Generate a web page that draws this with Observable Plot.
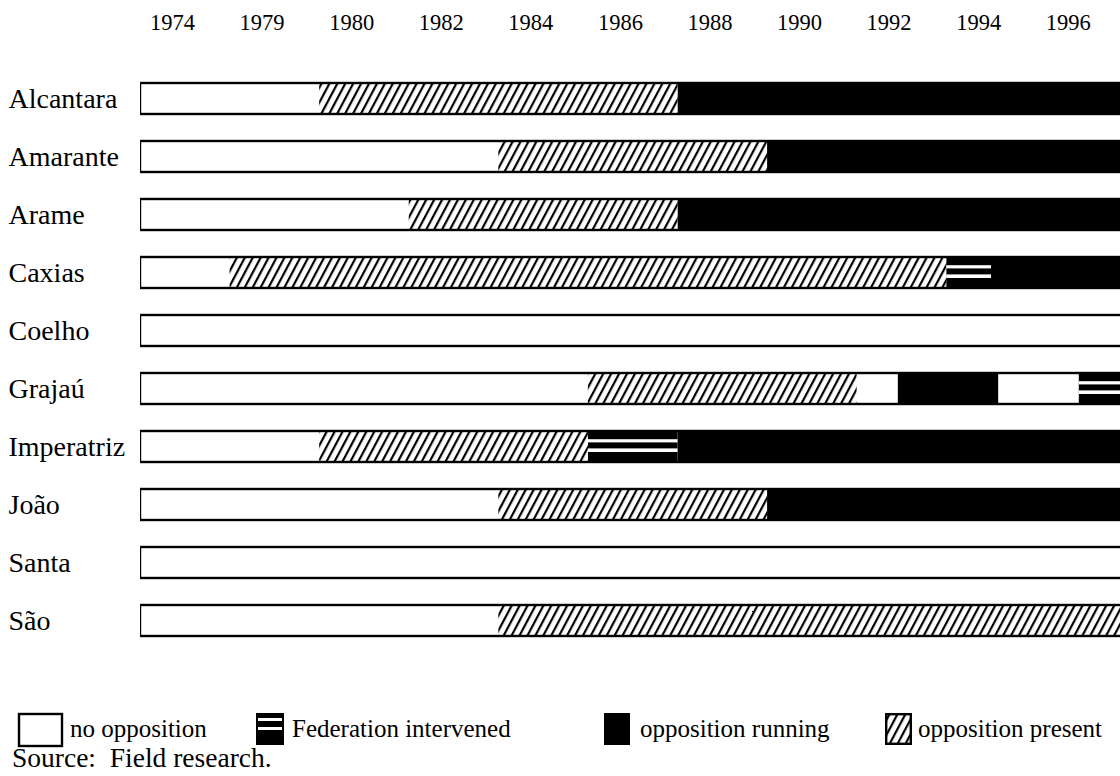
<!DOCTYPE html>
<html><head><meta charset="utf-8">
<script src="https://cdn.jsdelivr.net/npm/d3@7"></script>
<script src="https://cdn.jsdelivr.net/npm/@observablehq/plot@0.6"></script>
<style>
html,body{margin:0;padding:0;background:#fff;overflow:hidden;}
#chart svg{display:block;}
#legend{display:block;}
#legend text{white-space:pre;}
</style></head><body>
<svg width="0" height="0" style="position:absolute">
 <defs>
  <pattern id="hatch" patternUnits="userSpaceOnUse" width="7" height="20" patternTransform="rotate(28)">
    <rect width="7" height="20" fill="white"/>
    <line x1="1.1" y1="0" x2="1.1" y2="20" stroke="black" stroke-width="2.2"/>
  </pattern>
 </defs>
</svg>
<div id="chart"></div>
<svg id="legend" width="1120" height="76"></svg>
<script>
// ---- data ----
const towns = ["Alcantara","Amarante","Arame","Caxias","Coelho","Grajaú","Imperatriz","João","Santa","São"];
const years = ["1974","1979","1980","1982","1984","1986","1988","1990","1992","1994","1996"];
const statusKeys = ["none","federation","running","present"];
const statusLabels = ["no opposition","Federation intervened","opposition running","opposition present"];
// periods per town: [status, start, end] in election-period units (slot 0 = 1974 ... slot 10 = 1996)
const alcantara  = [["none",0,2],["present",2,6],["running",6,11]];
const amarante   = [["none",0,4],["present",4,7],["running",7,11]];
const arame      = [["none",0,3],["present",3,6],["running",6,11]];
const caxias     = [["none",0,1],["present",1,9],["federation",9,9.5],["running",9.5,11]];
const coelho     = [["none",0,11]];
const grajau     = [["none",0,5],["present",5,8],["none",8,8.46],["running",8.46,9.58],["none",9.58,10.48],["federation",10.48,11]];
const imperatriz = [["none",0,2],["present",2,5],["federation",5,6],["running",6,11]];
const joao       = [["none",0,4],["present",4,7],["running",7,11]];
const santa      = [["none",0,11]];
const sao        = [["none",0,4],["present",4,11]];
const periods = [alcantara, amarante, arame, caxias, coelho, grajau, imperatriz, joao, santa, sao];
const source = "Source:  Field research.";

// ---- build ----
const segs = towns.flatMap((t, i) => periods[i].map(([status, start, end]) => ({town: t, status, start, end})));
const outline = towns.map(t => {
  const s = segs.filter(d => d.town === t);
  return {town: t, start: d3.min(s, d => d.start), end: d3.max(s, d => d.end)};
});
const serif = "'Liberation Serif','Times New Roman',serif";
const HATCH = "#123456";
const base = {x1: "start", x2: "end", y: "town", clip: true};

const chart = Plot.plot({
  width: 1120, height: 700,
  marginLeft: 140, marginRight: 0, marginTop: 0, marginBottom: 0,
  style: {fontFamily: serif, background: "white", color: "black"},
  x: {domain: [0, 10.94], axis: null},
  y: {type: "band", domain: towns, range: [68.4, 651.4], paddingInner: 0.468, paddingOuter: 0.234, axis: null},
  marks: [
    Plot.rect(segs.filter(d => d.status === "running" || d.status === "federation"), {...base, fill: "black"}),
    Plot.rect(segs.filter(d => d.status === "present"), {...base, fill: HATCH}),
    Plot.rect(segs.filter(d => d.status === "federation"), {...base, fill: "white", insetTop: 8.2, insetBottom: 19.6}),
    Plot.rect(segs.filter(d => d.status === "federation"), {...base, fill: "white", insetTop: 17.4, insetBottom: 10}),
    Plot.rect(outline, {...base, fill: "none", stroke: "black", strokeWidth: 2.4}),
    Plot.text(years, {x: (d, i) => i + 0.357, frameAnchor: "top", dy: 22.5, lineAnchor: "middle", fontSize: 22.5, fill: "black"}),
    Plot.text(towns, {y: d => d, frameAnchor: "left", textAnchor: "start", dx: -132, lineAnchor: "middle", fontSize: 28, fill: "black"})
  ]
});
chart.querySelectorAll(`[fill="${HATCH}"]`).forEach(el => el.setAttribute("fill", "url(#hatch)"));
document.getElementById("chart").appendChild(chart);

// ---- legend ----
const lg = d3.select("#legend").style("font-family", serif);
const iconX = [18, 256, 604, 885], iconW = [45, 28, 26, 27], textX = [70, 292, 640, 918];
statusKeys.forEach((k, i) => {
  const g = lg.append("g");
  if (k === "none") {
    g.append("rect").attr("x", iconX[i] + 1).attr("y", 14).attr("width", iconW[i] - 2).attr("height", 32)
      .attr("fill", "white").attr("stroke", "black").attr("stroke-width", 2.4);
  } else if (k === "federation") {
    g.append("rect").attr("x", iconX[i]).attr("y", 13).attr("width", iconW[i]).attr("height", 32).attr("fill", "black");
    g.append("rect").attr("x", iconX[i] + 2).attr("y", 18).attr("width", iconW[i] - 4).attr("height", 3).attr("fill", "white");
    g.append("rect").attr("x", iconX[i] + 2).attr("y", 27).attr("width", iconW[i] - 4).attr("height", 3).attr("fill", "white");
  } else if (k === "running") {
    g.append("rect").attr("x", iconX[i]).attr("y", 13).attr("width", iconW[i]).attr("height", 32).attr("fill", "black");
  } else {
    g.append("rect").attr("x", iconX[i] + 1.2).attr("y", 14.2).attr("width", iconW[i] - 2.4).attr("height", 29.6)
      .attr("fill", "url(#hatch)").attr("stroke", "black").attr("stroke-width", 2.4);
  }
  g.append("text").attr("x", textX[i]).attr("y", 37).attr("font-size", 25).attr("fill", "black").text(statusLabels[i]);
});
lg.append("text").attr("x", 12).attr("y", 67).attr("font-size", 27.5).attr("fill", "black").text(source);
</script>
</body></html>
